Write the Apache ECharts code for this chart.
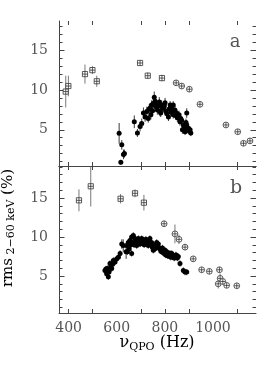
<!DOCTYPE html>
<html><head><meta charset="utf-8">
<script src="https://cdn.jsdelivr.net/npm/echarts@6/dist/echarts.min.js"></script>
<style>html,body{margin:0;padding:0;background:#fff}#c{width:257px;height:374px}</style>
</head><body><div id="c"></div>
<script>
// ---- data: [frequency Hz, rms %, error] ----
const xTickLabels = [400, 600, 800, 1000];
const xTickMarks = [400, 500, 700, 800, 900, 1100];
const yTickLabels = [5, 10, 15];
const yMinorTicks = [1,2,3,4,5,6,7,8,9,10,11,12,13,14,15,16,17,18,19];

const aFilled = [
 [610,4.55,1.3],[617,0.9,0.3],[621,3.1,0.6],[628,1.9,0.6],[632,2.0,0.5],
 [673,6.0,0.8],[686,4.6,0.5],[697,5.4,0.6],[704,5.8,0.6],[711,7.1,0.7],
 [718,6.6,0.6],[725,7.3,0.6],[731,6.4,0.5],[735,7.6,0.6],[738,7.7,0.6],
 [742,6.9,0.6],[745,8.1,0.6],[749,7.4,0.5],[752,8.3,0.6],[756,9.1,0.7],
 [760,8.6,0.6],[763,7.9,0.6],[766,8.2,0.5],[769,7.5,0.6],[773,8.0,0.5],
 [777,8.5,0.6],[780,7.3,0.6],[783,7.1,0.5],[787,8.1,0.6],[790,7.8,0.5],
 [794,7.7,0.5],[798,8.0,0.5],[801,8.4,0.6],[805,7.3,0.5],[808,7.0,0.5],
 [815,6.6,0.5],[818,7.6,0.5],[822,8.1,0.5],[825,7.2,0.5],[829,7.9,0.5],
 [832,7.4,0.5],[835,8.1,0.5],[835,6.9,0.5],[839,7.0,0.5],[842,7.5,0.5],
 [845,6.8,0.5],[849,7.1,0.5],[852,6.5,0.5],[856,6.6,0.5],[859,6.9,0.5],
 [863,6.0,0.5],[866,6.4,0.5],[870,6.2,0.5],[873,5.0,0.5],[877,5.6,0.5],
 [880,5.2,0.5],[884,4.75,0.4],[884,5.4,0.5],[888,5.9,0.5],[891,7.1,0.6],
 [891,5.6,0.5],[895,5.1,0.4],[898,5.2,0.4],[902,4.8,0.4],[905,5.0,0.4],
 [908,4.6,0.4]
];
const aSquares = [
 [388,9.8,2.0],[399,10.5,1.3],[468,12.0,1.2],[499,12.5,0.5],[517,11.1,0.7],
 [697,13.4,0.3],[729,11.8,0.4],[788,11.5,0.4]
];
const aCircles = [
 [847,10.9,0.3],[870,10.5,0.3],[902,10.1,0.3],[946,8.2,0.3],[1054,5.6,0.3],
 [1103,4.75,0.3],[1127,3.3,0.3],[1154,3.6,0.3]
];

const bFilled = [
 [551,5.7,0.4],[555,5.9,0.4],[558,5.3,0.4],[561,5.95,0.4],[565,4.9,0.4],
 [568,5.5,0.4],[572,6.6,0.4],[575,6.2,0.4],[579,5.95,0.4],[583,6.5,0.4],
 [586,7.0,0.4],[593,6.8,0.4],[600,7.2,0.4],[607,7.4,0.4],[614,7.9,0.4],
 [621,9.1,0.6],[627,8.9,0.8],[639,8.1,0.9],[641,8.9,0.4],[644,8.1,0.4],
 [648,9.3,0.4],[652,8.5,0.4],[655,9.55,0.4],[659,9.0,0.4],[662,10.0,0.4],
 [662,7.9,0.4],[666,9.3,0.4],[669,10.2,0.4],[672,9.0,0.4],[676,9.8,0.4],
 [680,9.4,0.4],[683,8.9,0.4],[687,9.6,0.4],[690,9.8,0.4],[694,9.2,0.4],
 [697,9.1,0.4],[700,9.6,0.4],[704,9.8,0.4],[707,9.3,0.4],[711,9.55,0.4],
 [714,9.0,0.4],[718,9.3,0.4],[721,9.7,0.4],[725,9.55,0.4],[728,9.2,0.4],
 [731,8.9,0.4],[735,9.4,0.4],[738,9.8,0.4],[742,9.0,0.4],[745,9.3,0.4],
 [748,8.7,0.4],[752,8.3,0.4],[755,8.8,0.4],[759,8.5,0.4],[762,9.0,0.4],
 [766,9.3,0.4],[769,8.7,0.4],[773,9.1,0.4],[776,8.6,0.4],[780,8.5,0.4],
 [783,8.2,0.4],[787,8.1,0.4],[790,8.6,0.4],[794,8.3,0.4],[797,7.9,0.4],
 [801,8.3,0.4],[804,7.7,0.4],[808,8.1,0.4],[811,7.6,0.4],[815,7.6,0.4],
 [818,7.9,0.4],[822,7.9,0.4],[825,7.4,0.4],[829,7.9,0.4],[832,7.5,0.4],
 [835,7.6,0.4],[839,7.3,0.4],[842,7.4,0.4],[846,7.7,0.4],[849,7.6,0.4],
 [852,7.3,0.4],[856,7.5,0.4],[863,6.6,0.4],[877,5.7,0.4],[884,5.5,0.4],
 [891,5.5,0.4]
];
const bSquares = [
 [443,14.7,1.4],[492,16.5,2.6],[616,14.9,0.6],[676,15.6,0.5],[713,14.4,1.0]
];
const bCircles = [
 [797,11.7,0.4],[842,10.4,1.2],[859,9.7,0.6],[884,8.7,0.4],[918,7.2,0.3],
 [953,5.8,0.3],[985,5.6,0.3],[1027,5.8,0.4],[1022,4.0,0.6],[1030,4.7,0.6],
 [1041,4.3,0.4],[1057,3.8,0.3],[1099,3.75,0.3]
];

// ---- chart ----
const X_MIN = 360, X_MAX = 1179;
const Y_RANGE = [[0.44, 18.68], [0.26, 19.1]];
const FONT = 'DejaVu Serif';
const LBL = '#555';
const LINE = '#444';

const chart = echarts.init(document.getElementById('c'), null, {renderer: 'canvas'});

const xAxes = [], yAxes = [];
[0, 1].forEach(g => {
  xAxes.push({
    gridIndex: g, type: 'value', position: 'bottom', min: X_MIN, max: X_MAX,
    axisLine: {show: true, lineStyle: {color: LINE, width: 1}},
    axisTick: {show: true, inside: true, length: 4, customValues: xTickMarks, lineStyle: {color: LINE}},
    axisLabel: g === 1 ? {show: true, customValues: xTickLabels, formatter: v => String(v), fontFamily: FONT, fontSize: 14, color: LBL, margin: 8} : {show: false},
    splitLine: {show: false}
  });
  xAxes.push({
    gridIndex: g, type: 'value', position: 'top', min: X_MIN, max: X_MAX,
    axisLine: {show: g === 1, lineStyle: {color: LINE, width: 1}},
    axisTick: {show: true, inside: true, length: 4, customValues: xTickMarks, lineStyle: {color: LINE}},
    axisLabel: {show: false}, splitLine: {show: false}
  });
  const [mn, mx] = Y_RANGE[g];
  ['left', 'right'].forEach(pos => {
    yAxes.push({
      gridIndex: g, type: 'value', position: pos, min: mn, max: mx,
      axisLine: {show: pos === 'left', lineStyle: {color: LINE, width: 1}},
      axisTick: {show: true, inside: true, length: 5.5, customValues: yTickLabels, lineStyle: {color: LINE}},
      axisLabel: pos === 'left' ? {show: true, customValues: yTickLabels, formatter: v => String(v), fontFamily: FONT, fontSize: 14, color: LBL, margin: 11} : {show: false},
      splitLine: {show: false}
    });
    yAxes.push({
      gridIndex: g, type: 'value', position: pos, min: mn, max: mx,
      axisLine: {show: false},
      axisTick: {show: true, inside: true, length: 3.5, customValues: yMinorTicks, lineStyle: {color: LINE}},
      axisLabel: {show: false}, splitLine: {show: false}
    });
  });
});

function clampY(g, v) { const r = Y_RANGE[g]; return Math.max(r[0], Math.min(r[1], v)); }

function errSeries(g, data, color) {
  return {
    type: 'custom', xAxisIndex: g * 2, yAxisIndex: g * 4, data: data, z: 2, silent: true,
    renderItem: function (params, api) {
      const x = api.value(0), y = api.value(1), e = api.value(2);
      const p1 = api.coord([x, clampY(g, y + e)]), p2 = api.coord([x, clampY(g, y - e)]);
      return {type: 'line', shape: {x1: p1[0], y1: p1[1], x2: p2[0], y2: p2[1]},
        style: {stroke: color, lineWidth: 0.9}};
    }
  };
}
function openSeries(g, data, shape) {
  return {
    type: 'custom', xAxisIndex: g * 2, yAxisIndex: g * 4, data: data, z: 3, silent: true,
    renderItem: function (params, api) {
      const x = api.value(0), y = api.value(1), e = api.value(2);
      const c = api.coord([x, y]);
      const p1 = api.coord([x, clampY(g, y + e)]), p2 = api.coord([x, clampY(g, y - e)]);
      const r = 2.6;
      const st = {stroke: '#333', lineWidth: 0.8, fill: null};
      const children = [
        {type: 'line', shape: {x1: p1[0], y1: p1[1], x2: p2[0], y2: p2[1]}, style: {stroke: '#555', lineWidth: 0.8}},
        shape === 'sq'
          ? {type: 'rect', shape: {x: c[0] - r, y: c[1] - r, width: 2 * r, height: 2 * r}, style: {stroke: '#333', lineWidth: 0.8, fill: '#fff'}}
          : {type: 'circle', shape: {cx: c[0], cy: c[1], r: r + 0.3}, style: {stroke: '#333', lineWidth: 0.8, fill: '#fff'}},
        {type: 'line', shape: {x1: c[0] - r, y1: c[1], x2: c[0] + r, y2: c[1]}, style: st},
        {type: 'line', shape: {x1: c[0], y1: c[1] - r, x2: c[0], y2: c[1] + r}, style: st}
      ];
      return {type: 'group', children: children};
    }
  };
}
function filledSeries(g, data) {
  return {
    type: 'scatter', xAxisIndex: g * 2, yAxisIndex: g * 4, data: data, z: 4,
    symbol: 'circle', symbolSize: 5, itemStyle: {color: '#000', opacity: 1},
    emphasis: {disabled: true}
  };
}

const option = {
  animation: false,
  backgroundColor: '#fff',
  grid: [
    {left: 59, right: 1, top: 21, height: 145, containLabel: false},
    {left: 59, right: 1, top: 166, height: 147, containLabel: false}
  ],
  xAxis: xAxes,
  yAxis: yAxes,
  series: [
    errSeries(0, aFilled, '#222'), filledSeries(0, aFilled),
    openSeries(0, aSquares, 'sq'), openSeries(0, aCircles, 'ci'),
    errSeries(1, bFilled, '#222'), filledSeries(1, bFilled),
    openSeries(1, bSquares, 'sq'), openSeries(1, bCircles, 'ci')
  ],
  graphic: [
    {type: 'text', x: 235, y: 42, style: {text: 'a', font: '18px "DejaVu Serif"', fill: '#555', align: 'center', verticalAlign: 'middle'}},
    {type: 'text', x: 236, y: 188, style: {text: 'b', font: '19px "DejaVu Serif"', fill: '#555', align: 'center', verticalAlign: 'middle'}},
    {type: 'text', x: 157, y: 343, style: {
      text: '{m|ν}{s|QPO}{m| (Hz)}', align: 'center', verticalAlign: 'middle',
      rich: {
        m: {fontFamily: FONT, fontSize: 16, color: LBL, lineHeight: 20, verticalAlign: 'middle'},
        s: {fontFamily: FONT, fontSize: 11, color: LBL, lineHeight: 20, verticalAlign: 'bottom'}
      }}},
    {type: 'text', x: 8, y: 228, rotation: Math.PI / 2, style: {
      text: '{m|rms}{s| 2−60 keV}{m| (%)}', align: 'center', verticalAlign: 'middle',
      rich: {
        m: {fontFamily: FONT, fontSize: 15, color: LBL, lineHeight: 18, verticalAlign: 'middle'},
        s: {fontFamily: FONT, fontSize: 11, color: LBL, lineHeight: 18, verticalAlign: 'bottom'}
      }}}
  ]
};
chart.setOption(option);
</script></body></html>
